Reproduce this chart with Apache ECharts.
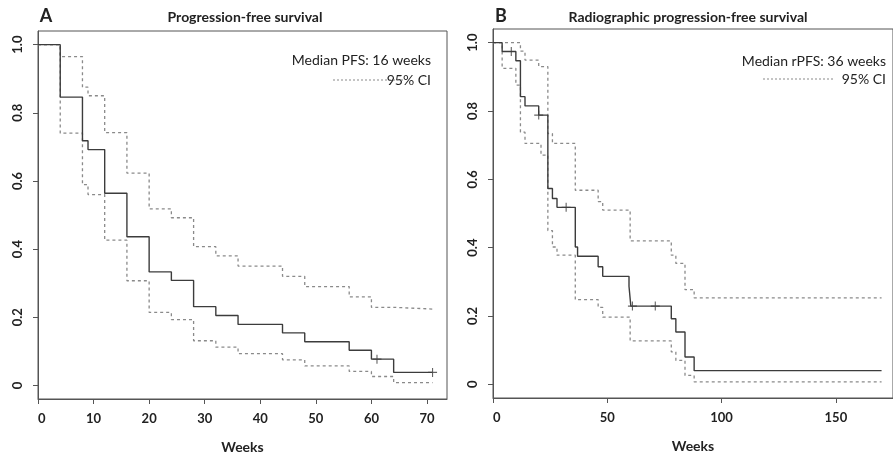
<!DOCTYPE html>
<html>
<head>
<meta charset="utf-8">
<script src="https://cdn.jsdelivr.net/npm/echarts@6/dist/echarts.min.js"></script>
<style>
  html, body { margin: 0; padding: 0; background: #fff; }
  #chart { width: 893px; height: 459px; }
</style>
</head>
<body>
<div id="chart"></div>
<script>
// Panel A - progression-free survival (weeks)
var pfsTime  = [0, 4, 8, 9, 12, 16, 20, 24, 28, 32, 36, 44, 48, 56, 60, 64, 71];
var pfsSurv  = [1, 0.846, 0.718, 0.692, 0.564, 0.436, 0.333, 0.308, 0.231, 0.205, 0.179, 0.154, 0.128, 0.103, 0.077, 0.038, 0.038];
var pfsUpper = [1, 0.965, 0.875, 0.850, 0.742, 0.623, 0.518, 0.492, 0.407, 0.380, 0.350, 0.320, 0.290, 0.260, 0.229, 0.224, 0.224];
var pfsLower = [1, 0.740, 0.589, 0.560, 0.426, 0.307, 0.214, 0.193, 0.131, 0.112, 0.093, 0.075, 0.057, 0.041, 0.026, 0.008, 0.008];
var pfsCensorTime = [61, 71];
var pfsCensorSurv = [0.077, 0.038];

// Panel B - radiographic progression-free survival (weeks)
var rpfsTime = [0, 4, 10, 12, 14, 20, 24, 26, 28, 36, 37, 46, 48, 59.5, 60.3, 78, 80, 84, 88, 170];
var rpfsSurv = [1, 0.974, 0.947, 0.842, 0.815, 0.788, 0.573, 0.544, 0.518, 0.402, 0.375, 0.344, 0.316, 0.287, 0.229, 0.192, 0.153, 0.080, 0.040, 0.040];
var rpfsUpperTime = [0, 12, 14, 20, 24, 26, 36, 46, 48, 60, 78, 80, 84, 88, 170];
var rpfsUpper     = [1, 0.975, 0.949, 0.930, 0.734, 0.705, 0.568, 0.535, 0.510, 0.420, 0.378, 0.354, 0.277, 0.253, 0.253];
var rpfsLowerTime = [0, 4, 10, 12, 14, 21, 24, 26, 28, 36, 46, 48, 60, 78, 80, 84, 88, 170];
var rpfsLower     = [1, 0.925, 0.876, 0.738, 0.705, 0.671, 0.450, 0.402, 0.378, 0.248, 0.225, 0.197, 0.127, 0.095, 0.070, 0.026, 0.007, 0.007];
var rpfsCensorTime = [8, 20, 32, 61, 71];
var rpfsCensorSurv = [0.974, 0.788, 0.518, 0.229, 0.229];

var yTicks = [0, 0.2, 0.4, 0.6, 0.8, 1.0];
var xTicksA = [0, 10, 20, 30, 40, 50, 60, 70];
var xTicksB = [0, 50, 100, 150];

var FONT = 'Lato, "Open Sans", sans-serif';
var AXIS = '#555';
var SOLID = '#3c3c3c';
var DASH = '#8a8a8a';

function pairs(xs, ys){
	var out = [];
	for(var i = 0; i < xs.length; i++){
		out.push([xs[i], ys[i]]);
	}
	return out;
}

function xAxisOf(idx, max, ticks){
	return {
		type: 'value', gridIndex: idx, min: 0, max: max,
		name: 'Weeks', nameLocation: 'middle', nameGap: 41,
		nameTextStyle: { fontFamily: FONT, fontWeight: 'bold', fontSize: 14, color: '#222' },
		axisLine: { show: true, onZero: false, lineStyle: { color: AXIS, width: 1 } },
		axisTick: { show: true, inside: false, length: 5, customValues: ticks, lineStyle: { color: AXIS } },
		axisLabel: { customValues: ticks, margin: 13, alignMinLabel: 'left',
			fontFamily: FONT, fontWeight: 'bold', fontSize: 13, color: '#222' },
		splitLine: { show: false }
	};
}

function yAxisOf(idx){
	return {
		type: 'value', gridIndex: idx, min: -0.04, max: 1.04,
		axisLine: { show: true, onZero: false, lineStyle: { color: AXIS, width: 1 } },
		axisTick: { show: true, inside: false, length: 5, customValues: yTicks, lineStyle: { color: AXIS } },
		axisLabel: { customValues: yTicks, rotate: 90, margin: 14,
			fontFamily: FONT, fontWeight: 'bold', fontSize: 13, color: '#222',
			formatter: function(v){ return v === 0 ? '0' : v.toFixed(1); } },
		splitLine: { show: false }
	};
}

function curve(idx, data, dashed){
	return {
		type: 'line', xAxisIndex: idx, yAxisIndex: idx, step: 'end',
		data: data, symbol: 'none', silent: true,
		lineStyle: dashed ? { color: DASH, width: 1.3, type: [3, 3] } : { color: SOLID, width: 1.4 }
	};
}

function censor(idx, data){
	return {
		type: 'scatter', xAxisIndex: idx, yAxisIndex: idx, data: data,
		symbol: 'path://M5,0L5,10M0,5L10,5', symbolSize: 9, silent: true,
		itemStyle: { color: 'none', borderColor: SOLID, borderWidth: 1.1 }
	};
}

function txt(x, y, s, size, bold, align){
	return { type: 'text', x: x, y: y, style: {
		text: s, fontFamily: FONT, fontSize: size, fontWeight: bold ? 'bold' : 'normal',
		fill: '#222', align: align || 'center', verticalAlign: 'middle' } };
}

var myChart = echarts.init(document.getElementById('chart'));
var option = {
	animation: false,
	backgroundColor: '#fff',
	grid: [
		{ left: 38, top: 31, width: 409, height: 369, show: true, borderColor: AXIS, borderWidth: 1 },
		{ left: 493, top: 29, width: 407, height: 369, show: true, borderColor: AXIS, borderWidth: 1 }
	],
	xAxis: [xAxisOf(0, 73.6, xTicksA), xAxisOf(1, 175, xTicksB)],
	yAxis: [yAxisOf(0), yAxisOf(1)],
	series: [
		curve(0, pairs(pfsTime, pfsUpper), true),
		curve(0, pairs(pfsTime, pfsLower), true),
		curve(0, pairs(pfsTime, pfsSurv), false),
		censor(0, pairs(pfsCensorTime, pfsCensorSurv)),
		curve(1, pairs(rpfsUpperTime, rpfsUpper), true),
		curve(1, pairs(rpfsLowerTime, rpfsLower), true),
		curve(1, pairs(rpfsTime, rpfsSurv), false),
		censor(1, pairs(rpfsCensorTime, rpfsCensorSurv))
	],
	graphic: [
		txt(46, 16, 'A', 18, true),
		txt(245, 17, 'Progression-free survival', 14, true),
		txt(501, 16, 'B', 18, true),
		txt(688, 17, 'Radiographic progression-free survival', 14, true),
		txt(431, 60, 'Median PFS: 16 weeks', 14, false, 'right'),
		txt(431, 80, '95% CI', 14, false, 'right'),
		{ type: 'line', shape: { x1: 333, y1: 80, x2: 403, y2: 80 },
			style: { stroke: DASH, lineWidth: 1, lineDash: [2, 2] } },
		txt(886, 61, 'Median rPFS: 36 weeks', 14, false, 'right'),
		txt(886, 79, '95% CI', 14, false, 'right'),
		{ type: 'line', shape: { x1: 763, y1: 79, x2: 833, y2: 79 },
			style: { stroke: DASH, lineWidth: 1, lineDash: [2, 2] } }
	]
};
myChart.setOption(option);
</script>
</body>
</html>
